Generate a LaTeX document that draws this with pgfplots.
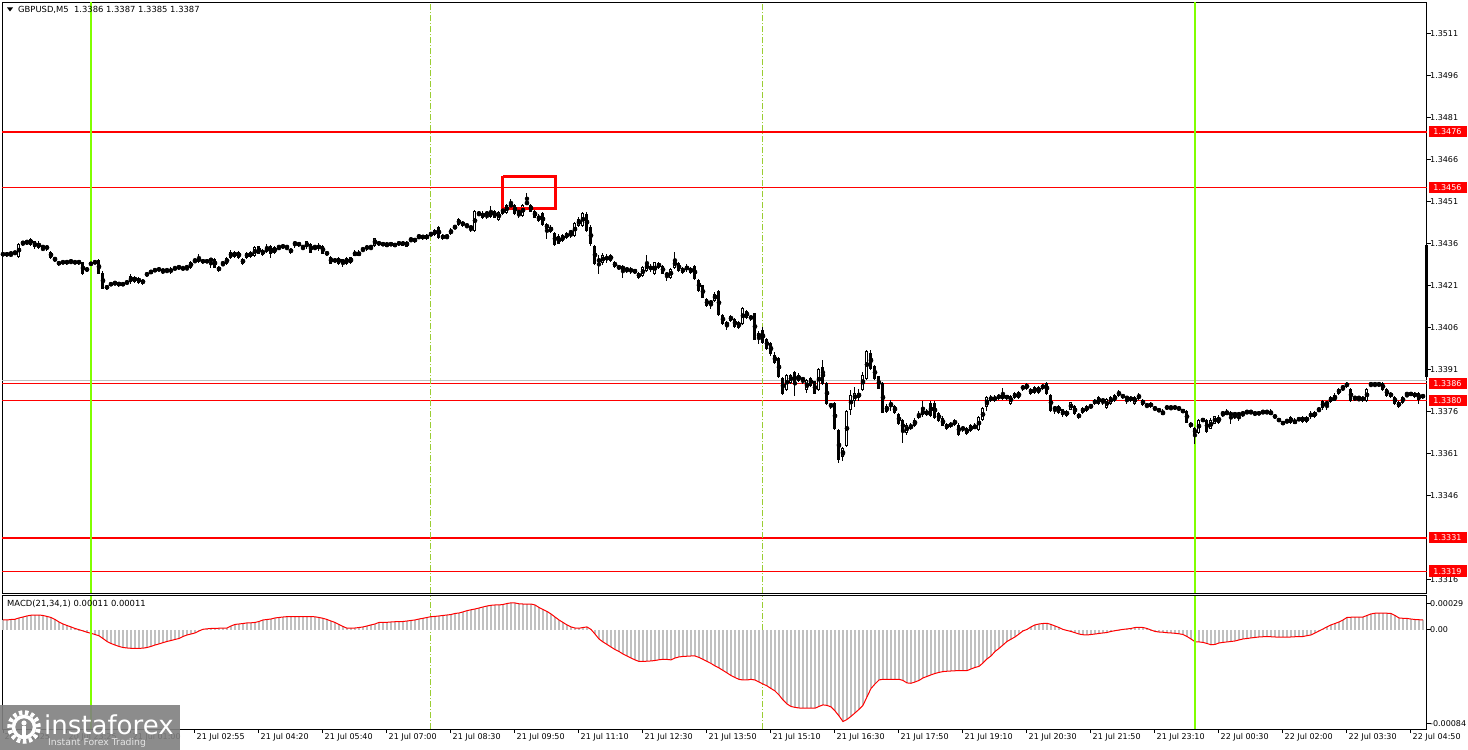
\documentclass[border=0pt]{standalone}
\usepackage{fontspec}
\setmainfont{DejaVu Sans}
\usepackage{pgfplots}
\usepackage{pgfplotstable}
\pgfplotsset{compat=1.18}
\definecolor{vline}{RGB}{128,255,0}
\definecolor{sep}{RGB}{154,205,50}
\definecolor{hist}{RGB}{192,192,192}
\definecolor{bid}{RGB}{192,192,192}
\definecolor{logo}{RGB}{128,128,128}

% GBPUSD M5 candles: open high low close
\pgfplotstableread[row sep=\\]{
o h l c\\
1.34319 1.34330 1.34316 1.34326\\ 1.34326 1.34330 1.34316 1.34319\\ 1.34326 1.34326 1.34316 1.34326\\ 1.34326 1.34330 1.34323 1.34330\\ 1.34316 1.34362 1.34312 1.34359\\
1.34362 1.34366 1.34355 1.34366\\ 1.34366 1.34369 1.34359 1.34366\\ 1.34376 1.34380 1.34355 1.34359\\ 1.34348 1.34369 1.34344 1.34366\\ 1.34362 1.34369 1.34344 1.34348\\
1.34348 1.34348 1.34337 1.34348\\ 1.34351 1.34355 1.34337 1.34341\\ 1.34330 1.34334 1.34309 1.34312\\ 1.34305 1.34309 1.34298 1.34305\\ 1.34294 1.34298 1.34284 1.34287\\
1.34294 1.34298 1.34291 1.34294\\ 1.34298 1.34301 1.34287 1.34291\\ 1.34298 1.34298 1.34291 1.34298\\ 1.34294 1.34298 1.34291 1.34294\\ 1.34298 1.34301 1.34287 1.34291\\
1.34291 1.34294 1.34251 1.34255\\ 1.34269 1.34273 1.34262 1.34269\\ 1.34287 1.34294 1.34284 1.34291\\ 1.34294 1.34298 1.34291 1.34294\\ 1.34301 1.34305 1.34255 1.34255\\
1.34255 1.34259 1.34198 1.34201\\ 1.34201 1.34212 1.34198 1.34209\\ 1.34216 1.34219 1.34212 1.34216\\ 1.34219 1.34223 1.34216 1.34219\\ 1.34212 1.34223 1.34209 1.34223\\
1.34216 1.34219 1.34212 1.34216\\ 1.34223 1.34223 1.34216 1.34223\\ 1.34223 1.34251 1.34219 1.34241\\ 1.34226 1.34244 1.34223 1.34241\\ 1.34237 1.34241 1.34219 1.34223\\
1.34219 1.34234 1.34216 1.34230\\ 1.34251 1.34259 1.34244 1.34251\\ 1.34259 1.34262 1.34255 1.34259\\ 1.34266 1.34269 1.34262 1.34266\\ 1.34269 1.34273 1.34266 1.34269\\
1.34259 1.34269 1.34255 1.34269\\ 1.34266 1.34266 1.34259 1.34266\\ 1.34269 1.34273 1.34255 1.34259\\ 1.34269 1.34280 1.34266 1.34276\\ 1.34276 1.34280 1.34269 1.34276\\
1.34276 1.34280 1.34266 1.34269\\ 1.34276 1.34276 1.34269 1.34276\\ 1.34276 1.34298 1.34273 1.34294\\ 1.34301 1.34301 1.34294 1.34301\\ 1.34309 1.34323 1.34294 1.34298\\
1.34294 1.34305 1.34291 1.34301\\ 1.34298 1.34301 1.34294 1.34298\\ 1.34305 1.34305 1.34276 1.34301\\ 1.34305 1.34309 1.34276 1.34276\\ 1.34266 1.34280 1.34262 1.34276\\
1.34291 1.34291 1.34284 1.34291\\ 1.34291 1.34312 1.34287 1.34309\\ 1.34312 1.34337 1.34309 1.34330\\ 1.34316 1.34334 1.34312 1.34330\\ 1.34330 1.34334 1.34309 1.34312\\
1.34291 1.34309 1.34287 1.34305\\ 1.34312 1.34330 1.34309 1.34326\\ 1.34330 1.34334 1.34312 1.34316\\ 1.34319 1.34351 1.34316 1.34348\\ 1.34348 1.34351 1.34323 1.34326\\
1.34323 1.34341 1.34319 1.34337\\ 1.34334 1.34359 1.34330 1.34348\\ 1.34351 1.34355 1.34312 1.34326\\ 1.34330 1.34351 1.34326 1.34348\\ 1.34348 1.34348 1.34341 1.34348\\
1.34351 1.34359 1.34344 1.34351\\ 1.34348 1.34348 1.34341 1.34348\\ 1.34330 1.34344 1.34326 1.34341\\ 1.34362 1.34369 1.34348 1.34362\\ 1.34362 1.34366 1.34351 1.34355\\
1.34348 1.34348 1.34341 1.34348\\ 1.34348 1.34369 1.34344 1.34366\\ 1.34359 1.34362 1.34330 1.34330\\ 1.34348 1.34348 1.34341 1.34348\\ 1.34355 1.34359 1.34337 1.34341\\
1.34351 1.34355 1.34326 1.34326\\ 1.34326 1.34334 1.34319 1.34326\\ 1.34312 1.34316 1.34291 1.34291\\ 1.34301 1.34305 1.34298 1.34301\\ 1.34309 1.34312 1.34287 1.34291\\
1.34291 1.34305 1.34280 1.34305\\ 1.34309 1.34312 1.34287 1.34291\\ 1.34294 1.34312 1.34291 1.34312\\ 1.34319 1.34334 1.34316 1.34330\\ 1.34319 1.34334 1.34316 1.34330\\
1.34341 1.34341 1.34334 1.34341\\ 1.34341 1.34355 1.34337 1.34351\\ 1.34348 1.34348 1.34341 1.34348\\ 1.34355 1.34380 1.34351 1.34380\\ 1.34359 1.34369 1.34355 1.34366\\
1.34359 1.34362 1.34355 1.34359\\ 1.34362 1.34366 1.34351 1.34351\\ 1.34362 1.34362 1.34355 1.34355\\ 1.34351 1.34362 1.34351 1.34362\\ 1.34366 1.34369 1.34355 1.34359\\
1.34366 1.34369 1.34355 1.34355\\ 1.34351 1.34369 1.34351 1.34366\\ 1.34376 1.34376 1.34369 1.34376\\ 1.34369 1.34380 1.34366 1.34380\\ 1.34387 1.34387 1.34380 1.34387\\
1.34380 1.34391 1.34376 1.34391\\ 1.34380 1.34394 1.34376 1.34391\\ 1.34398 1.34401 1.34391 1.34391\\ 1.34394 1.34412 1.34391 1.34409\\ 1.34419 1.34423 1.34380 1.34384\\
1.34391 1.34394 1.34376 1.34380\\ 1.34387 1.34387 1.34380 1.34387\\ 1.34398 1.34416 1.34394 1.34409\\ 1.34419 1.34423 1.34416 1.34419\\ 1.34430 1.34451 1.34426 1.34448\\
1.34426 1.34441 1.34423 1.34437\\ 1.34426 1.34426 1.34419 1.34426\\ 1.34419 1.34419 1.34405 1.34419\\ 1.34409 1.34480 1.34405 1.34476\\ 1.34469 1.34469 1.34462 1.34469\\
1.34455 1.34473 1.34451 1.34469\\ 1.34469 1.34469 1.34451 1.34469\\ 1.34459 1.34491 1.34455 1.34476\\ 1.34473 1.34476 1.34451 1.34455\\ 1.34448 1.34476 1.34444 1.34473\\
1.34487 1.34491 1.34466 1.34469\\ 1.34473 1.34501 1.34469 1.34498\\ 1.34498 1.34519 1.34491 1.34498\\ 1.34498 1.34501 1.34466 1.34469\\ 1.34473 1.34473 1.34455 1.34473\\
1.34462 1.34501 1.34459 1.34498\\ 1.34505 1.34541 1.34501 1.34505\\ 1.34498 1.34501 1.34476 1.34476\\ 1.34476 1.34480 1.34455 1.34455\\ 1.34444 1.34466 1.34441 1.34459\\
1.34469 1.34473 1.34426 1.34430\\ 1.34416 1.34434 1.34380 1.34430\\ 1.34419 1.34423 1.34401 1.34405\\ 1.34398 1.34401 1.34355 1.34359\\ 1.34387 1.34391 1.34359 1.34362\\
1.34373 1.34394 1.34369 1.34391\\ 1.34398 1.34401 1.34380 1.34384\\ 1.34401 1.34401 1.34384 1.34401\\ 1.34391 1.34437 1.34387 1.34434\\ 1.34426 1.34455 1.34423 1.34448\\
1.34426 1.34473 1.34423 1.34469\\ 1.34466 1.34473 1.34405 1.34409\\ 1.34419 1.34423 1.34355 1.34359\\ 1.34351 1.34355 1.34287 1.34291\\ 1.34301 1.34319 1.34255 1.34301\\
1.34291 1.34323 1.34287 1.34319\\ 1.34305 1.34323 1.34294 1.34312\\ 1.34301 1.34323 1.34298 1.34319\\ 1.34294 1.34298 1.34276 1.34280\\ 1.34276 1.34280 1.34269 1.34276\\
1.34280 1.34284 1.34241 1.34266\\ 1.34269 1.34273 1.34259 1.34269\\ 1.34266 1.34273 1.34255 1.34266\\ 1.34266 1.34269 1.34255 1.34259\\ 1.34255 1.34259 1.34237 1.34241\\
1.34248 1.34280 1.34244 1.34276\\ 1.34266 1.34319 1.34262 1.34291\\ 1.34280 1.34284 1.34262 1.34266\\ 1.34255 1.34294 1.34251 1.34291\\ 1.34276 1.34294 1.34273 1.34291\\
1.34280 1.34284 1.34255 1.34255\\ 1.34251 1.34259 1.34230 1.34251\\ 1.34241 1.34273 1.34237 1.34269\\ 1.34276 1.34330 1.34273 1.34301\\ 1.34291 1.34294 1.34262 1.34266\\
1.34259 1.34276 1.34255 1.34273\\ 1.34280 1.34284 1.34262 1.34266\\ 1.34259 1.34276 1.34255 1.34273\\ 1.34280 1.34284 1.34234 1.34237\\ 1.34230 1.34234 1.34191 1.34194\\
1.34209 1.34212 1.34166 1.34169\\ 1.34162 1.34166 1.34137 1.34141\\ 1.34151 1.34159 1.34130 1.34151\\ 1.34159 1.34187 1.34155 1.34180\\ 1.34191 1.34194 1.34105 1.34109\\
1.34105 1.34109 1.34073 1.34076\\ 1.34066 1.34084 1.34055 1.34080\\ 1.34087 1.34105 1.34084 1.34101\\ 1.34091 1.34094 1.34062 1.34066\\ 1.34080 1.34084 1.34059 1.34062\\
1.34076 1.34134 1.34073 1.34130\\ 1.34119 1.34123 1.34094 1.34098\\ 1.34091 1.34105 1.34087 1.34101\\ 1.34109 1.34112 1.34016 1.34019\\ 1.34026 1.34044 1.34001 1.34041\\
1.34051 1.34059 1.34005 1.34009\\ 1.34019 1.34023 1.33984 1.33987\\ 1.34005 1.34009 1.33962 1.33969\\ 1.33962 1.33969 1.33930 1.33934\\ 1.33951 1.33955 1.33884 1.33887\\
1.33880 1.33884 1.33823 1.33826\\ 1.33841 1.33894 1.33837 1.33891\\ 1.33866 1.33894 1.33862 1.33891\\ 1.33901 1.33905 1.33819 1.33862\\ 1.33873 1.33898 1.33869 1.33891\\
1.33876 1.33880 1.33862 1.33876\\ 1.33841 1.33876 1.33830 1.33873\\ 1.33880 1.33884 1.33851 1.33855\\ 1.33866 1.33869 1.33823 1.33826\\ 1.33841 1.33916 1.33837 1.33912\\
1.33919 1.33944 1.33859 1.33862\\ 1.33862 1.33866 1.33787 1.33791\\ 1.33784 1.33791 1.33773 1.33784\\ 1.33791 1.33794 1.33698 1.33701\\ 1.33694 1.33698 1.33580 1.33591\\
1.33598 1.33634 1.33587 1.33630\\ 1.33641 1.33766 1.33637 1.33762\\ 1.33769 1.33837 1.33751 1.33819\\ 1.33801 1.33848 1.33780 1.33826\\ 1.33812 1.33841 1.33801 1.33826\\
1.33841 1.33901 1.33837 1.33891\\ 1.33880 1.33980 1.33876 1.33976\\ 1.33969 1.33980 1.33912 1.33916\\ 1.33923 1.33926 1.33876 1.33880\\ 1.33884 1.33887 1.33841 1.33844\\
1.33862 1.33866 1.33759 1.33759\\ 1.33762 1.33787 1.33759 1.33780\\ 1.33787 1.33801 1.33766 1.33787\\ 1.33780 1.33784 1.33755 1.33759\\ 1.33751 1.33755 1.33716 1.33719\\
1.33730 1.33734 1.33651 1.33691\\ 1.33687 1.33719 1.33680 1.33712\\ 1.33701 1.33719 1.33698 1.33712\\ 1.33712 1.33737 1.33709 1.33730\\ 1.33741 1.33759 1.33737 1.33751\\
1.33748 1.33798 1.33744 1.33766\\ 1.33751 1.33769 1.33748 1.33762\\ 1.33791 1.33798 1.33744 1.33748\\ 1.33791 1.33798 1.33737 1.33741\\ 1.33755 1.33759 1.33726 1.33730\\
1.33737 1.33741 1.33709 1.33712\\ 1.33716 1.33719 1.33698 1.33701\\ 1.33709 1.33723 1.33705 1.33719\\ 1.33730 1.33734 1.33712 1.33716\\ 1.33712 1.33716 1.33676 1.33680\\
1.33701 1.33709 1.33691 1.33701\\ 1.33684 1.33705 1.33680 1.33701\\ 1.33712 1.33716 1.33691 1.33694\\ 1.33701 1.33716 1.33698 1.33712\\ 1.33698 1.33744 1.33694 1.33741\\
1.33730 1.33773 1.33726 1.33769\\ 1.33780 1.33816 1.33766 1.33812\\ 1.33801 1.33819 1.33798 1.33812\\ 1.33801 1.33819 1.33798 1.33812\\ 1.33819 1.33823 1.33805 1.33809\\
1.33819 1.33841 1.33805 1.33809\\ 1.33816 1.33819 1.33805 1.33809\\ 1.33791 1.33819 1.33787 1.33816\\ 1.33812 1.33830 1.33809 1.33826\\ 1.33812 1.33834 1.33809 1.33830\\
1.33841 1.33855 1.33837 1.33851\\ 1.33859 1.33862 1.33841 1.33844\\ 1.33826 1.33844 1.33823 1.33841\\ 1.33848 1.33851 1.33826 1.33830\\ 1.33848 1.33851 1.33826 1.33830\\
1.33844 1.33859 1.33841 1.33855\\ 1.33862 1.33866 1.33823 1.33826\\ 1.33819 1.33823 1.33762 1.33766\\ 1.33773 1.33780 1.33755 1.33773\\ 1.33780 1.33784 1.33755 1.33759\\
1.33766 1.33769 1.33744 1.33748\\ 1.33748 1.33766 1.33744 1.33762\\ 1.33769 1.33794 1.33766 1.33791\\ 1.33780 1.33784 1.33751 1.33755\\ 1.33741 1.33755 1.33737 1.33751\\
1.33759 1.33776 1.33755 1.33773\\ 1.33780 1.33784 1.33762 1.33766\\ 1.33780 1.33784 1.33773 1.33780\\ 1.33801 1.33805 1.33787 1.33791\\ 1.33812 1.33816 1.33787 1.33791\\
1.33801 1.33805 1.33787 1.33801\\ 1.33776 1.33809 1.33773 1.33805\\ 1.33791 1.33816 1.33787 1.33812\\ 1.33801 1.33823 1.33798 1.33819\\ 1.33830 1.33837 1.33816 1.33819\\
1.33819 1.33823 1.33809 1.33812\\ 1.33809 1.33812 1.33791 1.33809\\ 1.33812 1.33816 1.33798 1.33801\\ 1.33791 1.33816 1.33787 1.33812\\ 1.33819 1.33826 1.33805 1.33809\\
1.33801 1.33805 1.33784 1.33787\\ 1.33784 1.33787 1.33773 1.33784\\ 1.33791 1.33794 1.33776 1.33780\\ 1.33773 1.33776 1.33766 1.33773\\ 1.33766 1.33769 1.33762 1.33766\\
1.33751 1.33766 1.33748 1.33762\\ 1.33776 1.33780 1.33769 1.33776\\ 1.33776 1.33776 1.33769 1.33776\\ 1.33776 1.33780 1.33769 1.33776\\ 1.33773 1.33776 1.33766 1.33773\\
1.33762 1.33766 1.33759 1.33762\\ 1.33762 1.33766 1.33723 1.33723\\ 1.33719 1.33723 1.33705 1.33709\\ 1.33701 1.33705 1.33648 1.33680\\ 1.33687 1.33734 1.33684 1.33730\\
1.33730 1.33734 1.33726 1.33730\\ 1.33730 1.33734 1.33687 1.33691\\ 1.33701 1.33734 1.33698 1.33730\\ 1.33719 1.33744 1.33716 1.33741\\ 1.33723 1.33748 1.33719 1.33741\\
1.33755 1.33759 1.33741 1.33755\\ 1.33762 1.33766 1.33748 1.33751\\ 1.33751 1.33759 1.33719 1.33751\\ 1.33751 1.33751 1.33737 1.33751\\ 1.33751 1.33751 1.33730 1.33751\\
1.33755 1.33759 1.33741 1.33755\\ 1.33759 1.33762 1.33755 1.33759\\ 1.33759 1.33762 1.33755 1.33759\\ 1.33755 1.33759 1.33748 1.33755\\ 1.33755 1.33759 1.33751 1.33755\\
1.33759 1.33762 1.33755 1.33759\\ 1.33759 1.33762 1.33755 1.33759\\ 1.33762 1.33766 1.33748 1.33751\\ 1.33744 1.33748 1.33737 1.33744\\ 1.33730 1.33734 1.33726 1.33730\\
1.33719 1.33723 1.33716 1.33719\\ 1.33726 1.33730 1.33723 1.33726\\ 1.33741 1.33744 1.33719 1.33723\\ 1.33719 1.33734 1.33716 1.33730\\ 1.33734 1.33737 1.33730 1.33734\\
1.33726 1.33744 1.33723 1.33741\\ 1.33726 1.33744 1.33723 1.33741\\ 1.33755 1.33759 1.33737 1.33741\\ 1.33759 1.33762 1.33741 1.33744\\ 1.33769 1.33769 1.33762 1.33769\\
1.33776 1.33801 1.33769 1.33798\\ 1.33791 1.33791 1.33769 1.33791\\ 1.33798 1.33816 1.33794 1.33812\\ 1.33801 1.33826 1.33798 1.33819\\ 1.33826 1.33844 1.33823 1.33841\\
1.33848 1.33848 1.33837 1.33848\\ 1.33862 1.33866 1.33848 1.33851\\ 1.33841 1.33844 1.33798 1.33801\\ 1.33809 1.33812 1.33801 1.33809\\ 1.33809 1.33809 1.33801 1.33809\\
1.33801 1.33816 1.33798 1.33812\\ 1.33801 1.33844 1.33798 1.33841\\ 1.33859 1.33862 1.33848 1.33859\\ 1.33859 1.33859 1.33851 1.33859\\ 1.33859 1.33862 1.33851 1.33859\\
1.33862 1.33866 1.33837 1.33841\\ 1.33841 1.33844 1.33816 1.33819\\ 1.33826 1.33830 1.33812 1.33816\\ 1.33812 1.33816 1.33787 1.33791\\ 1.33780 1.33798 1.33776 1.33794\\
1.33794 1.33816 1.33791 1.33812\\ 1.33823 1.33823 1.33816 1.33823\\ 1.33823 1.33830 1.33816 1.33823\\ 1.33826 1.33830 1.33812 1.33816\\ 1.33826 1.33830 1.33791 1.33805\\
1.33812 1.33823 1.33809 1.33819\\
}\candles

% MACD(21,34,1) main line, one value per bar
\pgfplotstableread[row sep=\\]{
m\\
0.000083\\ 0.000083\\ 0.000087\\ 0.000089\\ 0.000100\\ 0.000108\\ 0.000117\\ 0.000123\\ 0.000125\\ 0.000125\\
0.000121\\ 0.000113\\ 0.000104\\ 0.000087\\ 0.000066\\ 0.000049\\ 0.000036\\ 0.000024\\ 0.000011\\ 0.000001\\
-0.000010\\ -0.000021\\ -0.000030\\ -0.000040\\ -0.000051\\ -0.000074\\ -0.000099\\ -0.000116\\ -0.000129\\ -0.000141\\
-0.000150\\ -0.000154\\ -0.000157\\ -0.000157\\ -0.000157\\ -0.000156\\ -0.000150\\ -0.000141\\ -0.000129\\ -0.000120\\
-0.000109\\ -0.000099\\ -0.000091\\ -0.000082\\ -0.000074\\ -0.000057\\ -0.000044\\ -0.000036\\ -0.000027\\ -0.000010\\
0.000004\\ 0.000008\\ 0.000011\\ 0.000012\\ 0.000013\\ 0.000013\\ 0.000015\\ 0.000032\\ 0.000045\\ 0.000049\\
0.000053\\ 0.000058\\ 0.000059\\ 0.000062\\ 0.000070\\ 0.000083\\ 0.000087\\ 0.000091\\ 0.000100\\ 0.000104\\
0.000108\\ 0.000111\\ 0.000111\\ 0.000111\\ 0.000111\\ 0.000111\\ 0.000111\\ 0.000111\\ 0.000110\\ 0.000104\\
0.000097\\ 0.000087\\ 0.000074\\ 0.000062\\ 0.000045\\ 0.000028\\ 0.000013\\ 0.000013\\ 0.000015\\ 0.000019\\
0.000024\\ 0.000032\\ 0.000041\\ 0.000049\\ 0.000062\\ 0.000063\\ 0.000063\\ 0.000066\\ 0.000068\\ 0.000069\\
0.000070\\ 0.000074\\ 0.000079\\ 0.000083\\ 0.000091\\ 0.000097\\ 0.000104\\ 0.000111\\ 0.000113\\ 0.000117\\
0.000121\\ 0.000125\\ 0.000129\\ 0.000138\\ 0.000142\\ 0.000151\\ 0.000162\\ 0.000169\\ 0.000176\\ 0.000184\\
0.000193\\ 0.000201\\ 0.000207\\ 0.000210\\ 0.000210\\ 0.000214\\ 0.000222\\ 0.000228\\ 0.000227\\ 0.000220\\
0.000218\\ 0.000218\\ 0.000218\\ 0.000210\\ 0.000189\\ 0.000172\\ 0.000155\\ 0.000134\\ 0.000108\\ 0.000083\\
0.000062\\ 0.000041\\ 0.000024\\ 0.000015\\ 0.000013\\ 0.000019\\ 0.000024\\ 0.000003\\ -0.000036\\ -0.000078\\
-0.000103\\ -0.000124\\ -0.000146\\ -0.000167\\ -0.000184\\ -0.000205\\ -0.000222\\ -0.000239\\ -0.000255\\ -0.000268\\
-0.000268\\ -0.000266\\ -0.000264\\ -0.000260\\ -0.000254\\ -0.000250\\ -0.000251\\ -0.000255\\ -0.000239\\ -0.000230\\
-0.000226\\ -0.000224\\ -0.000222\\ -0.000222\\ -0.000234\\ -0.000251\\ -0.000268\\ -0.000285\\ -0.000306\\ -0.000323\\
-0.000344\\ -0.000365\\ -0.000387\\ -0.000404\\ -0.000420\\ -0.000425\\ -0.000425\\ -0.000420\\ -0.000425\\ -0.000442\\
-0.000459\\ -0.000475\\ -0.000497\\ -0.000518\\ -0.000552\\ -0.000594\\ -0.000628\\ -0.000649\\ -0.000657\\ -0.000662\\
-0.000664\\ -0.000664\\ -0.000664\\ -0.000664\\ -0.000649\\ -0.000636\\ -0.000640\\ -0.000653\\ -0.000687\\ -0.000729\\
-0.000777\\ -0.000759\\ -0.000733\\ -0.000704\\ -0.000674\\ -0.000640\\ -0.000568\\ -0.000497\\ -0.000459\\ -0.000425\\
-0.000419\\ -0.000419\\ -0.000419\\ -0.000419\\ -0.000419\\ -0.000429\\ -0.000450\\ -0.000453\\ -0.000442\\ -0.000429\\
-0.000408\\ -0.000395\\ -0.000382\\ -0.000370\\ -0.000361\\ -0.000354\\ -0.000351\\ -0.000349\\ -0.000347\\ -0.000346\\
-0.000346\\ -0.000346\\ -0.000332\\ -0.000319\\ -0.000310\\ -0.000281\\ -0.000247\\ -0.000222\\ -0.000184\\ -0.000158\\
-0.000129\\ -0.000099\\ -0.000080\\ -0.000061\\ -0.000036\\ -0.000010\\ 0.000003\\ 0.000024\\ 0.000041\\ 0.000049\\
0.000053\\ 0.000055\\ 0.000045\\ 0.000032\\ 0.000019\\ 0.000003\\ -0.000006\\ -0.000014\\ -0.000025\\ -0.000036\\
-0.000042\\ -0.000044\\ -0.000040\\ -0.000036\\ -0.000031\\ -0.000027\\ -0.000023\\ -0.000014\\ -0.000008\\ -0.000002\\
0.000003\\ 0.000007\\ 0.000011\\ 0.000019\\ 0.000021\\ 0.000019\\ 0.000011\\ -0.000002\\ -0.000014\\ -0.000019\\
-0.000021\\ -0.000025\\ -0.000027\\ -0.000030\\ -0.000034\\ -0.000040\\ -0.000057\\ -0.000078\\ -0.000101\\ -0.000103\\
-0.000107\\ -0.000116\\ -0.000127\\ -0.000124\\ -0.000112\\ -0.000107\\ -0.000103\\ -0.000099\\ -0.000095\\ -0.000086\\
-0.000078\\ -0.000074\\ -0.000069\\ -0.000065\\ -0.000061\\ -0.000059\\ -0.000058\\ -0.000059\\ -0.000061\\ -0.000063\\
-0.000063\\ -0.000063\\ -0.000061\\ -0.000059\\ -0.000058\\ -0.000057\\ -0.000050\\ -0.000044\\ -0.000027\\ -0.000010\\
0.000007\\ 0.000024\\ 0.000041\\ 0.000053\\ 0.000066\\ 0.000083\\ 0.000104\\ 0.000106\\ 0.000106\\ 0.000106\\
0.000108\\ 0.000121\\ 0.000134\\ 0.000140\\ 0.000140\\ 0.000140\\ 0.000140\\ 0.000138\\ 0.000121\\ 0.000100\\
0.000097\\ 0.000096\\ 0.000091\\ 0.000087\\ 0.000085\\ 0.000083\\
}\macd

\pgfplotsset{
  mt/.style={
    scale only axis, anchor=south west, width=1424.5pt,
    xmin=-0.125, xmax=356, clip=false,
    axis line style={black, line width=1pt},
    tick align=outside, major tick length=4pt,
    tick style={black, line width=1pt},
    ytick pos=right, yticklabel pos=right,
    every tick label/.append style={font=\fontsize{8}{9.6}\selectfont},
    yticklabel style={anchor=west, inner sep=0pt, xshift=-1pt},
  },
  wick/.style={only marks, mark=none, forget plot,
    error bars/.cd, y dir=both, y explicit, error mark=none,
    error bar style={black, line width=1pt}},
  body/.style={only marks, mark=none, forget plot,
    error bars/.cd, y dir=both, y explicit, error mark=none,
    error bar style={#1}},
}
\tikzset{
  lbl/.style={fill=red, text=white, anchor=west, xshift=2.3pt, inner xsep=4pt,
    inner ysep=0pt, minimum height=11.5pt, text width=29.5pt,
    font=\fontsize{8}{9.6}\selectfont},
}

\begin{document}
\fontsize{8}{9.6}\selectfont
\begin{tikzpicture}[x=1pt,y=1pt]
\useasboundingbox (0,0) rectangle (1468,750);

% price panel
\begin{axis}[mt, at={(2.5pt,156.5pt)}, height=591pt,
  ymin=1.331104, ymax=1.352211,
  xtick=\empty,
  ytick={1.3316,1.3346,1.3361,1.3376,1.3391,1.3406,1.3421,1.3436,1.3451,1.3466,1.3481,1.3496,1.3511},
  yticklabels={1.3316,1.3346,1.3361,1.3376,1.3391,1.3406,1.3421,1.3436,1.3451,1.3466,1.3481,1.3496,1.3511},
]
% levels
\addplot[red, line width=2pt] coordinates {(-0.125,1.3476) (356,1.3476)};
\addplot[red, line width=1pt] coordinates {(-0.125,1.3456) (356,1.3456)};
\addplot[bid, line width=1pt] coordinates {(-0.125,1.3387) (356,1.3387)};
\addplot[red, line width=1pt] coordinates {(-0.125,1.3386) (356,1.3386)};
\addplot[red, line width=1pt] coordinates {(-0.125,1.3380) (356,1.3380)};
\addplot[red, line width=2pt] coordinates {(-0.125,1.3331) (356,1.3331)};
\addplot[red, line width=1pt] coordinates {(-0.125,1.3319) (356,1.3319)};
% time lines
\addplot[sep, line width=1pt, dash pattern=on 6pt off 2pt on 1pt off 2pt] coordinates {(107,1.331104) (107,1.352211)};
\addplot[sep, line width=1pt, dash pattern=on 6pt off 2pt on 1pt off 2pt] coordinates {(190,1.331104) (190,1.352211)};
\addplot[vline, line width=2pt] coordinates {(22,1.331104) (22,1.352211)};
\addplot[vline, line width=2pt] coordinates {(298,1.331104) (298,1.352211)};
% candles
\addplot[wick] table[x expr=\coordindex, y expr=(\thisrow{h}+\thisrow{l})/2,
  y error expr=(\thisrow{h}-\thisrow{l})/2+0.0000179] {\candles};
\addplot[body={black, line width=3pt}] table[x expr=\coordindex, y expr=(\thisrow{o}+\thisrow{c})/2,
  y error expr=abs(\thisrow{c}-\thisrow{o})/2+0.0000179] {\candles};
\addplot[body={white, line width=1pt}] table[x expr=\coordindex, y expr=(\thisrow{o}+\thisrow{c})/2,
  y error expr={ifthenelse(\thisrow{c}>\thisrow{o}, max(abs(\thisrow{c}-\thisrow{o})/2-0.0000179,0), 0)}] {\candles};
% highlight box
\addplot[red, line width=3pt, line join=miter] coordinates {(125,1.34601) (138.2,1.34601) (138.2,1.34484) (125,1.34484) (125,1.34601)};
% current bar marker at the price scale
\addplot[black, line width=3pt] coordinates {(356,1.34355) (356,1.33884)};
% level labels
\node[lbl] at (axis cs:356,1.3476) {1.3476};
\node[lbl] at (axis cs:356,1.3456) {1.3456};
\node[lbl] at (axis cs:356,1.3386) {1.3386};
\node[lbl] at (axis cs:356,1.3380) {1.3380};
\node[lbl] at (axis cs:356,1.3331) {1.3331};
\node[lbl] at (axis cs:356,1.3319) {1.3319};
\end{axis}

% MACD panel
\begin{axis}[mt, at={(2.5pt,21pt)}, height=133.5pt,
  ymin=-0.00084, ymax=0.00029, scaled y ticks=false,
  xtick={0,16,...,352}, xtick pos=bottom,
  xticklabels={20 Jul 2025,20 Jul 23:25,21 Jul 01:00,21 Jul 02:55,21 Jul 04:20,21 Jul 05:40,21 Jul 07:00,21 Jul 08:30,21 Jul 09:50,21 Jul 11:10,21 Jul 12:30,21 Jul 13:50,21 Jul 15:10,21 Jul 16:30,21 Jul 17:50,21 Jul 19:10,21 Jul 20:30,21 Jul 21:50,21 Jul 23:10,22 Jul 00:30,22 Jul 02:00,22 Jul 03:30,22 Jul 04:50},
  xticklabel style={anchor=north west, inner sep=0pt, xshift=1.5pt},
  ytick={-0.000792,0,0.000224},
  yticklabels={-0.00084,0.00,0.00029},
]
\addplot[sep, line width=1pt, dash pattern=on 6pt off 2pt on 1pt off 2pt] coordinates {(107,-0.00084) (107,0.00029)};
\addplot[sep, line width=1pt, dash pattern=on 6pt off 2pt on 1pt off 2pt] coordinates {(190,-0.00084) (190,0.00029)};
\addplot[ycomb, draw=hist, line width=2pt, mark=none] table[x expr=\coordindex, y=m] {\macd};
\addplot[red, line width=1pt, mark=none] table[x expr=\coordindex, y=m] {\macd};
\addplot[vline, line width=2pt] coordinates {(22,-0.00084) (22,0.00029)};
\addplot[vline, line width=2pt] coordinates {(298,-0.00084) (298,0.00029)};
\end{axis}

% captions
\fill[black] (7,742.5) -- (13,742.5) -- (10,738.5) -- cycle;
\node[anchor=west, inner sep=0pt, font=\fontsize{8.4}{10}\selectfont] at (18,740) {GBPUSD,M5\ \ 1.3386 1.3387 1.3385 1.3387};
\node[anchor=west, inner sep=0pt, font=\fontsize{8.4}{10}\selectfont] at (7,146) {MACD(21,34,1) 0.00011 0.00011};

% watermark
\fill[logo, opacity=0.9] (0,0) rectangle (180,45);
\draw[white, line width=4.5pt, dash pattern=on 3.5pt off 2.6pt] (24,23) circle (14.5);
\draw[white, line width=3.5pt] (24,23) circle (10.5);
\fill[white] (24,27) circle (2.6);
\fill[white] (22,14) rectangle (26,23.5);
\node[anchor=base west, inner sep=0pt, text=white, font=\fontsize{26}{28}\selectfont] at (44,15) {instaforex};
\node[anchor=base west, inner sep=0pt, text=white!90!black, font=\fontsize{9.3}{11}\selectfont] at (48,4) {Instant Forex Trading};
\end{tikzpicture}
\end{document}
